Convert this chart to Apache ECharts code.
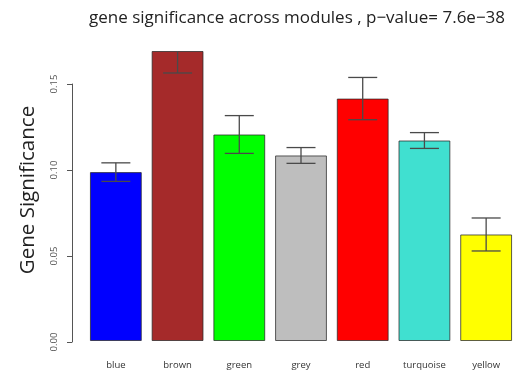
<!DOCTYPE html>
<html>
<head>
<meta charset="utf-8">
<script src="https://cdn.jsdelivr.net/npm/echarts@6/dist/echarts.min.js"></script>
<style>
  html, body { margin: 0; padding: 0; background: #fff; }
  #chart { width: 521px; height: 370px; }
</style>
</head>
<body>
<div id="chart"></div>
<script>
// Module names and their bar colours
const modules = ['blue', 'brown', 'green', 'grey', 'red', 'turquoise', 'yellow'];
const moduleColors = ['#0000FF', '#A52A2A', '#00FF00', '#BEBEBE', '#FF0000', '#40E0D0', '#FFFF00'];
// Mean gene significance per module and its standard error
const gsMean = [0.0983, 0.1688, 0.1202, 0.1080, 0.1411, 0.1167, 0.0620];
const gsSE = [0.0054, 0.0128, 0.0110, 0.0046, 0.0123, 0.0046, 0.0096];
// Labelled y ticks
const yTicks = [0.00, 0.05, 0.10, 0.15];

const GRID_LEFT = 85, GRID_RIGHT = 4, GRID_BOTTOM = 28;

const chart = echarts.init(document.getElementById('chart'), null, { renderer: 'canvas' });

chart.setOption({
  animation: false,
  backgroundColor: '#ffffff',
  title: {
    text: 'gene significance across modules , p\u2212value= 7.6e\u221238',
    left: 84,
    top: 5,
    textStyle: { fontFamily: 'Open Sans', fontSize: 17, fontWeight: 'normal', color: '#222' }
  },
  grid: [
    // plotting region: top edge sits at the tallest bar
    { left: GRID_LEFT, right: GRID_RIGHT, top: 51, bottom: GRID_BOTTOM },
    // region used only for the detached y axis (0 to 0.15)
    { left: GRID_LEFT, right: GRID_RIGHT, top: 84, bottom: GRID_BOTTOM }
  ],
  xAxis: [
    {
      gridIndex: 0,
      type: 'category',
      data: modules,
      axisLine: { show: false },
      axisTick: { show: false },
      axisLabel: { margin: 19, fontFamily: 'Open Sans', fontSize: 9.5, color: '#333' }
    },
    { gridIndex: 1, type: 'category', data: modules, show: false }
  ],
  yAxis: [
    {
      gridIndex: 0,
      type: 'value',
      min: 0,
      max: gsMean[1],
      name: 'Gene Significance',
      nameLocation: 'middle',
      nameGap: 46,
      nameTextStyle: { fontFamily: 'Open Sans', fontSize: 20.5, color: '#222', padding: [0, 0, 0, 12] },
      axisLine: { show: false },
      axisTick: { show: false },
      axisLabel: { show: false },
      splitLine: { show: false }
    },
    {
      gridIndex: 1,
      type: 'value',
      min: yTicks[0],
      max: yTicks[yTicks.length - 1],
      interval: yTicks[1] - yTicks[0],
      offset: 13,
      axisLine: { show: true, lineStyle: { color: '#555', width: 1 } },
      axisTick: { show: true, length: 5, lineStyle: { color: '#555' } },
      axisLabel: {
        rotate: 90,
        margin: 13,
        fontFamily: 'Open Sans',
        fontSize: 9.5,
        color: '#555',
        formatter: v => v.toFixed(2)
      },
      splitLine: { show: false }
    }
  ],
  series: [
    {
      type: 'bar',
      xAxisIndex: 0,
      yAxisIndex: 0,
      barCategoryGap: '16%',
      data: gsMean.map((v, i) => ({
        value: v,
        itemStyle: { color: moduleColors[i], borderColor: 'rgba(40,40,40,0.75)', borderWidth: 1 }
      }))
    },
    {
      // standard-error whiskers, clipped to the plotting region
      type: 'custom',
      xAxisIndex: 0,
      yAxisIndex: 0,
      clip: true,
      z: 5,
      data: gsMean.map((v, i) => [i, v - gsSE[i], v + gsSE[i]]),
      renderItem: function (params, api) {
        const lo = api.coord([api.value(0), api.value(1)]);
        const hi = api.coord([api.value(0), api.value(2)]);
        const half = api.size([1, 0])[0] * 0.235;
        const style = { stroke: '#4a4a4a', lineWidth: 1.3, fill: null };
        return {
          type: 'group',
          children: [
            { type: 'line', shape: { x1: lo[0], y1: lo[1], x2: hi[0], y2: hi[1] }, style },
            { type: 'line', shape: { x1: hi[0] - half, y1: hi[1], x2: hi[0] + half, y2: hi[1] }, style },
            { type: 'line', shape: { x1: lo[0] - half, y1: lo[1], x2: lo[0] + half, y2: lo[1] }, style }
          ]
        };
      }
    }
  ]
});
</script>
</body>
</html>
